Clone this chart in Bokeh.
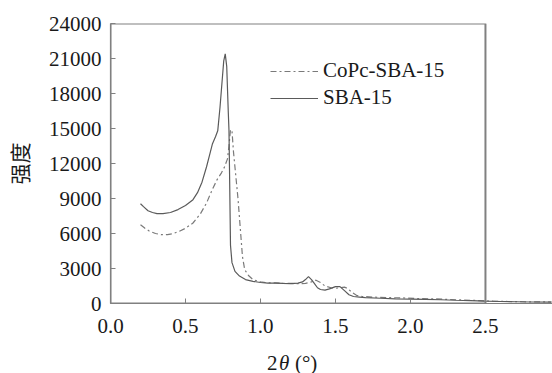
from bokeh.plotting import figure
from bokeh.layouts import column
from bokeh.models import Range1d, FixedTicker, Legend, LegendItem, BoxAnnotation
from bokeh.core.properties import value
from bokeh.embed import file_html
from bokeh.resources import INLINE

# ---- data ----
sba_x = [0.20, 0.22, 0.25, 0.28, 0.31, 0.35, 0.40, 0.45, 0.50, 0.55, 0.58, 0.61, 0.64, 0.66,
         0.68, 0.70, 0.715, 0.73, 0.745, 0.755, 0.765, 0.775, 0.785, 0.79, 0.795, 0.80, 0.81,
         0.83, 0.86, 0.90, 0.95, 1.00, 1.05, 1.10, 1.15, 1.20, 1.25, 1.28, 1.30, 1.32, 1.34,
         1.36, 1.38, 1.40, 1.43, 1.46, 1.50, 1.53, 1.56, 1.59, 1.62, 1.66, 1.70, 1.80, 1.90,
         2.00, 2.10, 2.20, 2.30, 2.40, 2.50, 2.60, 2.70, 2.80, 2.94]
sba_y = [8550, 8300, 7950, 7800, 7700, 7700, 7800, 8050, 8400, 8900, 9500, 10400, 11700, 12700,
         13700, 14300, 14800, 16800, 19200, 20800, 21400, 20300, 16500, 14800, 10000, 5000, 3500,
         2750, 2350, 2050, 1900, 1800, 1750, 1750, 1720, 1710, 1750, 1850, 2050, 2300, 2050,
         1700, 1350, 1200, 1150, 1250, 1450, 1450, 1100, 750, 600, 550, 500, 450, 400,
         380, 350, 320, 280, 250, 200, 170, 150, 130, 120]

copc_x = [0.20, 0.23, 0.26, 0.30, 0.34, 0.38, 0.42, 0.46, 0.50, 0.55, 0.60, 0.64, 0.68, 0.71,
          0.74, 0.76, 0.78, 0.79, 0.80, 0.81, 0.82, 0.835, 0.85, 0.865, 0.88, 0.895, 0.92, 0.95,
          1.00, 1.05, 1.10, 1.15, 1.20, 1.25, 1.30, 1.34, 1.37, 1.40, 1.43, 1.47, 1.50, 1.53,
          1.56, 1.58, 1.61, 1.64, 1.68, 1.75, 1.85, 1.95, 2.05, 2.15, 2.25, 2.35, 2.45, 2.55,
          2.65, 2.75, 2.94]
copc_y = [6750, 6450, 6200, 6000, 5900, 5900, 6000, 6200, 6450, 6900, 7700, 8600, 9800, 10600,
          11200, 11700, 12400, 13500, 14900, 14800, 13000, 11000, 9000, 6500, 4000, 2900, 2400, 2050,
          1850, 1780, 1760, 1730, 1720, 1700, 1720, 1850, 2000, 1800, 1500, 1350, 1300, 1350,
          1400, 1300, 950, 700, 600, 550, 500, 480, 420, 400, 350, 300, 250, 200,
          170, 150, 130]

x_ticks = [0.0, 0.5, 1.0, 1.5, 2.0, 2.5]
x_tick_labels = ["0.0", "0.5", "1.0", "1.5", "2.0", "2.5"]
y_ticks = [0, 3000, 6000, 9000, 12000, 15000, 18000, 21000, 24000]
y_tick_labels = [str(v) for v in y_ticks]
series_names = ["CoPc-SBA-15", "SBA-15"]
x_title_parts = ["2", "θ", "(°)"]
x_title_styles = ["normal", "italic", "normal"]
y_title = "强度"

SERIF = "Liberation Serif"
AXIS_C = "#808080"
TXT_C = "#1a1a1a"

p = figure(width=552, height=345, output_backend="svg", toolbar_location=None,
           x_range=Range1d(0, 2.947), y_range=Range1d(y_ticks[0], y_ticks[-1]),
           min_border_left=107, min_border_right=0, min_border_top=23, min_border_bottom=42)
p.outline_line_color = None
p.xgrid.visible = False
p.ygrid.visible = False

r_copc = p.line(copc_x, copc_y, line_color="#7a7a7a", line_width=1.2, line_dash="6 3 2 3")
r_sba = p.line(sba_x, sba_y, line_color="#5a5a5a", line_width=1.2)

# frame box (0..2.5)
p.add_layout(BoxAnnotation(left=x_ticks[0], right=x_ticks[-1], bottom=y_ticks[0], top=y_ticks[-1],
                           fill_color=None, fill_alpha=0, line_color=AXIS_C, line_alpha=1.0,
                           line_width=2))

for ax in (p.xaxis[0], p.yaxis[0]):
    ax.axis_line_color = AXIS_C
    ax.axis_line_width = 1.2
    ax.major_tick_line_color = AXIS_C
    ax.major_tick_in = 5
    ax.major_tick_out = 0
    ax.minor_tick_line_color = None
    ax.major_label_text_font = SERIF
    ax.major_label_text_font_size = "21px"
    ax.major_label_text_color = TXT_C

p.xaxis.ticker = FixedTicker(ticks=x_ticks)
p.xaxis.major_label_overrides = {t: l for t, l in zip(x_ticks, x_tick_labels)}
p.xaxis.major_label_standoff = 15
p.yaxis.ticker = FixedTicker(ticks=y_ticks)
p.yaxis.major_label_overrides = {t: l for t, l in zip(y_ticks, y_tick_labels)}
p.yaxis.major_label_standoff = 9

p.yaxis.axis_label = y_title
p.yaxis.axis_label_text_font = "Noto Sans CJK SC"
p.yaxis.axis_label_text_font_size = "21px"
p.yaxis.axis_label_text_font_style = "normal"
p.yaxis.axis_label_text_color = TXT_C
p.yaxis.axis_label_standoff = 12

legend = Legend(items=[LegendItem(label=series_names[0], renderers=[r_copc]),
                       LegendItem(label=series_names[1], renderers=[r_sba])],
                location=(160, 193), padding=0, margin=0, spacing=2,
                glyph_width=48, glyph_height=20, label_height=20, label_standoff=5,
                label_text_font=SERIF, label_text_font_size="21px", label_text_color=TXT_C,
                border_line_color=None, background_fill_alpha=0)
p.add_layout(legend)

# strip below for the x title, sharing the x scale
p2 = figure(width=552, height=28, output_backend="svg", toolbar_location=None,
            x_range=p.x_range, y_range=Range1d(0, 28),
            min_border_left=107, min_border_right=0, min_border_top=0, min_border_bottom=0)
p2.axis.visible = False
p2.grid.visible = False
p2.outline_line_color = None

xc = (x_ticks[0] + x_ticks[-1]) / 2
offsets = [-31, -19, -3]
for txt, off, style in zip(x_title_parts, offsets, x_title_styles):
    p2.text(x=[xc], y=[11], text=[txt], x_offset=off, text_font=value(SERIF),
            text_font_size="21px", text_font_style=style, text_align="left",
            text_baseline="middle", text_color=TXT_C)

open("out.html", "w").write(file_html(column(p, p2), INLINE))
